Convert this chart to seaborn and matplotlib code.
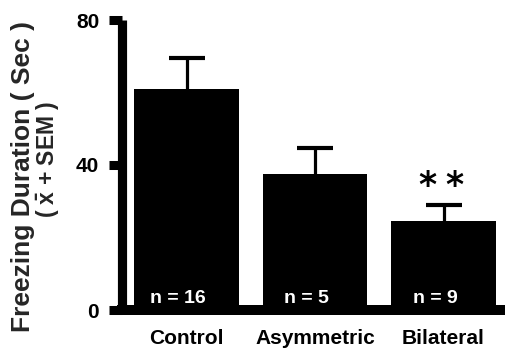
import matplotlib
matplotlib.use("Agg")
import matplotlib.pyplot as plt
import seaborn as sns
import pandas as pd

# Group means and standard errors of freezing duration (seconds)
groups = ["Control", "Asymmetric", "Bilateral"]
means = [61.0, 37.5, 24.5]
sems = [8.6, 7.3, 4.5]
n_labels = ["n = 16", "n = 5", "n = 9"]
y_ticks = [0, 40, 80]

sns.set_theme(style="white")
plt.rcParams["font.family"] = ["Liberation Sans", "DejaVu Sans"]
plt.rcParams["font.weight"] = "bold"
plt.rcParams["mathtext.fontset"] = "custom"
plt.rcParams["mathtext.rm"] = "Liberation Sans:bold"
plt.rcParams["mathtext.bf"] = "Liberation Sans:bold"
plt.rcParams["mathtext.it"] = "Liberation Sans:bold"

W, H = 506, 348
fig = plt.figure(figsize=(W / 100, H / 100), dpi=100)
# axes spans from the y spine (x=122px) to the right edge, y from 0 (310px) to 80 (20px)
ax = fig.add_axes([122 / W, (H - 310) / H, (W - 122) / W, 290 / H])

df = pd.DataFrame({"group": groups, "mean": means})
sns.barplot(data=df, x="group", y="mean", color="black", width=0.81,
            errorbar=None, saturation=1, linewidth=0, ax=ax)

xs = list(range(len(groups)))
eb = ax.errorbar(xs, means, yerr=[[0] * len(sems), sems], fmt="none",
                 ecolor="black", elinewidth=2.3, capsize=13, capthick=3)
# keep only the upper caps
caps = eb.lines[1]
if len(caps) == 2:
    caps[0].set_visible(False)

for x, lab in zip(xs, n_labels):
    ax.text(x - 0.065, 1.9, lab, color="white", fontsize=14,
            fontweight="bold", ha="center", va="baseline")

# significance marker above the bilateral group
for dx in (-0.105, 0.105):
    ax.text(2 - 0.02 + dx, 35.3, "*", fontsize=25, fontweight="bold",
            family="DejaVu Sans", ha="center", va="center_baseline",
            color="black")

ax.set_xlim(-0.502, 2.486)
ax.set_ylim(0, 80)
ax.set_yticks(y_ticks)
ax.set_yticklabels([str(t) for t in y_ticks], fontsize=15, fontweight="bold")
ax.set_xticks(xs)
ax.set_xticklabels(groups, fontsize=15, fontweight="bold")
ax.set_xlabel("")
ax.set_ylabel("")

for side in ("top", "right"):
    ax.spines[side].set_visible(False)
ax.spines["left"].set_linewidth(6.6)
ax.spines["bottom"].set_linewidth(7.2)
ax.spines["left"].set_color("black")
ax.spines["bottom"].set_color("black")
ax.spines["left"].set_capstyle("butt")

ax.tick_params(axis="y", left=True, direction="out", length=9.4, width=6.5,
               color="black", pad=7, labelcolor="black")
ax.tick_params(axis="x", bottom=False, length=0, pad=13.5, labelcolor="black")

fig.text(23 / W, 1 - 176.5 / H, "Freezing Duration ( Sec )", rotation=90,
         fontsize=19, fontweight="bold", ha="center", va="center")
fig.text(48 / W, 1 - 159.5 / H, r"( $\bar{\mathrm{x}}$ + SEM )", rotation=90,
         fontsize=16.5, fontweight="bold", ha="center", va="center")

fig.savefig("out.png", dpi=100, facecolor="white")
